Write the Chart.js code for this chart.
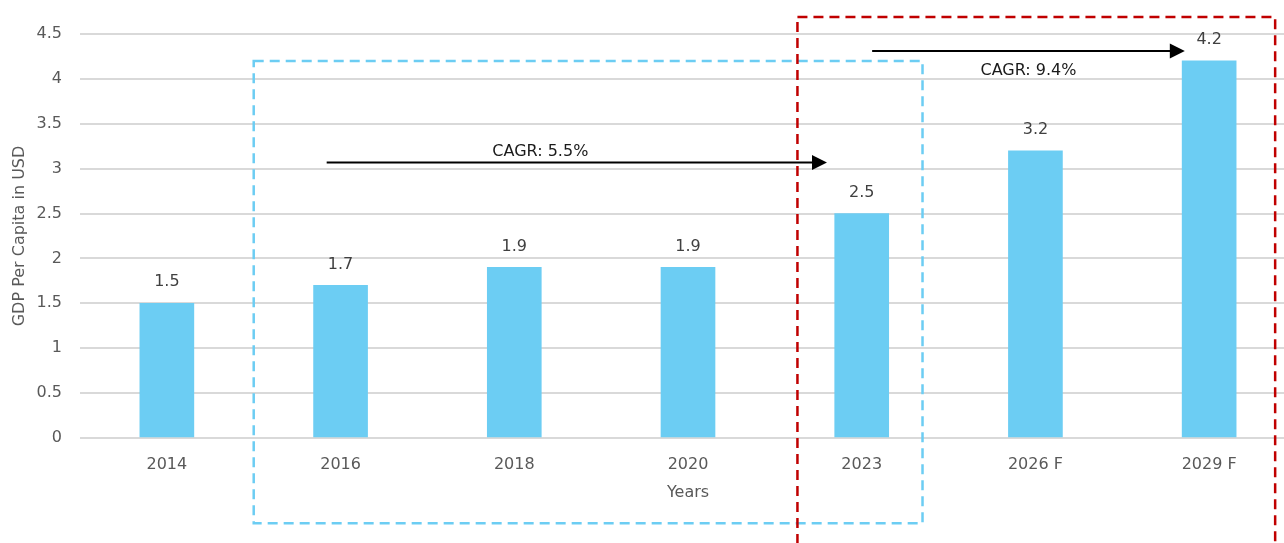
<!DOCTYPE html>
<html>
<head>
<meta charset="utf-8">
<script src="https://cdn.jsdelivr.net/npm/chart.js@4/dist/chart.umd.min.js"></script>
<style>
  html, body { margin: 0; padding: 0; background: #fff; overflow: hidden; }
  #wrap { width: 1300px; height: 543px; position: relative; }
</style>
</head>
<body>
<div id="wrap"><canvas id="c"></canvas></div>
<script>
// Categories and values
const years = ['2014', '2016', '2018', '2020', '2023', '2026 F', '2029 F'];
const gdpPerCapita = [1.5, 1.7, 1.9, 1.9, 2.5, 3.2, 4.2];
const yTicks = [0, 0.5, 1, 1.5, 2, 2.5, 3, 3.5, 4, 4.5];

// Highlight boxes in scale units (x: category index, y: value)
const boxHistoric = { x0: 0.5, x1: 4.35, y0: 4.2, y1: -0.95, color: '#6CCDF3' };
const boxForecast = { x0: 3.63, x1: 6.38, y0: 4.69, y1: -1.3, color: '#C00000' };
const boxes = [boxHistoric, boxForecast];

// Growth arrows with their CAGR captions
const arrows = [
  { x0: 0.92, x1: 3.8, y: 3.07, text: 'CAGR: 5.5%', tx: 2.15, ty: 3.19 },
  { x0: 4.06, x1: 5.86, y: 4.31, text: 'CAGR: 9.4%', tx: 4.96, ty: 4.09 }
];

const FONT = "'DejaVu Sans', sans-serif";
const TEXT = '#595959';

const valueLabels = {
  id: 'valueLabels',
  afterDatasetsDraw(chart) {
    const ctx = chart.ctx;
    const meta = chart.getDatasetMeta(0);
    ctx.save();
    ctx.font = '16px ' + FONT;
    ctx.fillStyle = '#404040';
    ctx.textAlign = 'center';
    ctx.textBaseline = 'middle';
    meta.data.forEach((bar, i) => {
      ctx.fillText(String(gdpPerCapita[i]), bar.x, bar.y - 21);
    });
    ctx.restore();
  }
};

const overlays = {
  id: 'overlays',
  afterDraw(chart) {
    const ctx = chart.ctx;
    const xs = chart.scales.x, ys = chart.scales.y;
    ctx.save();
    boxes.forEach(b => {
      const l = xs.getPixelForValue(b.x0), r = xs.getPixelForValue(b.x1);
      const t = ys.getPixelForValue(b.y0), bt = ys.getPixelForValue(b.y1);
      ctx.strokeStyle = b.color;
      ctx.lineWidth = 2.5;
      ctx.setLineDash([10, 6]);
      ctx.strokeRect(l, t, r - l, bt - t);
    });
    ctx.setLineDash([]);
    arrows.forEach(a => {
      const x0 = xs.getPixelForValue(a.x0), x1 = xs.getPixelForValue(a.x1);
      const y = ys.getPixelForValue(a.y);
      ctx.strokeStyle = '#000';
      ctx.fillStyle = '#000';
      ctx.lineWidth = 2;
      ctx.beginPath();
      ctx.moveTo(x0, y);
      ctx.lineTo(x1 - 14, y);
      ctx.stroke();
      ctx.beginPath();
      ctx.moveTo(x1, y);
      ctx.lineTo(x1 - 15, y - 7.5);
      ctx.lineTo(x1 - 15, y + 7.5);
      ctx.closePath();
      ctx.fill();
      ctx.font = '16px ' + FONT;
      ctx.fillStyle = '#1a1a1a';
      ctx.textAlign = 'center';
      ctx.textBaseline = 'middle';
      ctx.fillText(a.text, xs.getPixelForValue(a.tx), ys.getPixelForValue(a.ty));
    });
    ctx.restore();
  }
};

new Chart(document.getElementById('c'), {
  type: 'bar',
  data: {
    labels: years,
    datasets: [{
      data: gdpPerCapita,
      backgroundColor: '#6CCDF3',
      barThickness: 54
    }]
  },
  options: {
    responsive: true,
    maintainAspectRatio: false,
    animation: false,
    layout: { padding: { top: 34, right: 4, bottom: 40, left: 0 } },
    plugins: { legend: { display: false }, tooltip: { enabled: false } },
    scales: {
      x: {
        offset: true,
        grid: { display: false },
        border: { display: false },
        ticks: { color: TEXT, font: { family: FONT, size: 16 }, padding: 9, maxRotation: 0 },
        title: { display: true, text: 'Years', color: TEXT, font: { family: FONT, size: 16 }, padding: { top: 0, bottom: 1 } },
        afterFit(s) { s.height = 65; }
      },
      y: {
        min: 0, max: 4.5,
        afterBuildTicks(s) { s.ticks = yTicks.map(v => ({ value: v })); },
        grid: { color: '#D9D9D9', lineWidth: 2, drawTicks: false },
        border: { display: false },
        ticks: { color: TEXT, font: { family: FONT, size: 16 }, padding: 18, callback: v => String(v) },
        title: { display: true, text: 'GDP Per Capita in USD', color: TEXT, font: { family: FONT, size: 16 }, padding: { top: 10, bottom: 0 } },
        afterFit(s) { s.width = 80; }
      }
    }
  },
  plugins: [valueLabels, overlays]
});
</script>
</body>
</html>
